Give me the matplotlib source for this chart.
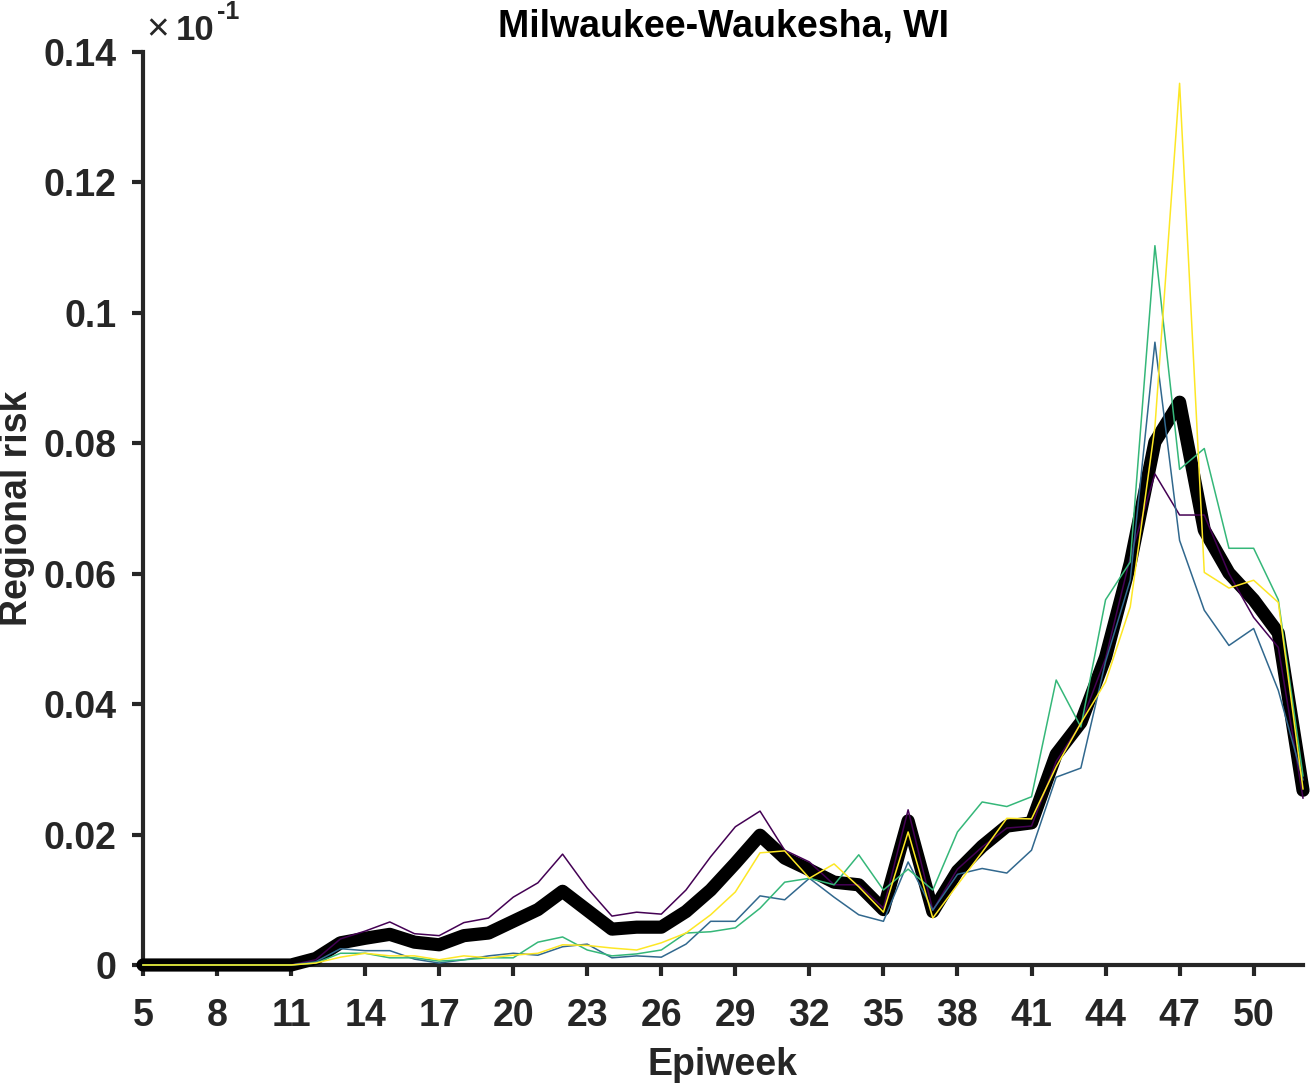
import numpy as np
import matplotlib
matplotlib.use("Agg")
import matplotlib.pyplot as plt
from matplotlib.ticker import FixedLocator, FuncFormatter

plt.rcParams['font.family'] = ['Liberation Sans', 'DejaVu Sans']
plt.rcParams['font.weight'] = 'bold'

weeks = list(range(5, 53))
zeros = [0.0] * 7  # weeks 5-11

mean_risk = zeros + [
    0.0010, 0.0034, 0.0041, 0.0047, 0.0035, 0.0031, 0.0045, 0.0049, 0.0067, 0.0085,
    0.0113, 0.0084, 0.0055, 0.0058, 0.0058, 0.0082, 0.0115, 0.0156, 0.0199, 0.0164,
    0.0146, 0.0127, 0.0123, 0.0085, 0.0221, 0.0082, 0.0144, 0.0182, 0.0213, 0.0218,
    0.0323, 0.0372, 0.0472, 0.0616, 0.0802, 0.0863, 0.0667, 0.0601, 0.0560, 0.0509,
    0.0268]

run_purple = zeros + [
    0.0008, 0.0040, 0.0052, 0.0066, 0.0048, 0.0045, 0.0065, 0.0072, 0.0104, 0.0126,
    0.0170, 0.0118, 0.0075, 0.0081, 0.0078, 0.0115, 0.0166, 0.0212, 0.0236, 0.0176,
    0.0158, 0.0123, 0.0123, 0.0087, 0.0238, 0.0084, 0.0147, 0.0181, 0.0210, 0.0213,
    0.0312, 0.0370, 0.0470, 0.0625, 0.0753, 0.0690, 0.0690, 0.0600, 0.0533, 0.0487,
    0.0256]

run_blue = zeros + [
    0.0005, 0.0025, 0.0022, 0.0022, 0.0009, 0.0003, 0.0008, 0.0014, 0.0018, 0.0015,
    0.0028, 0.0032, 0.0011, 0.0014, 0.0012, 0.0032, 0.0067, 0.0067, 0.0106, 0.0100,
    0.0133, 0.0104, 0.0077, 0.0067, 0.0158, 0.0084, 0.0139, 0.0148, 0.0141, 0.0176,
    0.0288, 0.0302, 0.0465, 0.0590, 0.0955, 0.0651, 0.0544, 0.0490, 0.0516, 0.0421,
    0.0284]

run_green = zeros + [
    0.0003, 0.0018, 0.0018, 0.0011, 0.0011, 0.0006, 0.0008, 0.0011, 0.0011, 0.0035,
    0.0043, 0.0023, 0.0014, 0.0017, 0.0023, 0.0049, 0.0051, 0.0057, 0.0087, 0.0127,
    0.0133, 0.0123, 0.0169, 0.0115, 0.0147, 0.0115, 0.0204, 0.0250, 0.0243, 0.0258,
    0.0437, 0.0365, 0.0560, 0.0618, 0.1103, 0.0760, 0.0792, 0.0639, 0.0639, 0.0560,
    0.0290]

run_yellow = zeros + [
    0.0003, 0.0012, 0.0018, 0.0014, 0.0014, 0.0008, 0.0014, 0.0011, 0.0015, 0.0018,
    0.0031, 0.0030, 0.0026, 0.0023, 0.0034, 0.0049, 0.0077, 0.0112, 0.0172, 0.0175,
    0.0133, 0.0155, 0.0120, 0.0081, 0.0204, 0.0072, 0.0123, 0.0173, 0.0225, 0.0224,
    0.0304, 0.0371, 0.0434, 0.0549, 0.0825, 0.1352, 0.0602, 0.0578, 0.0590, 0.0556,
    0.0270]

runs = [run_purple, run_blue, run_green, run_yellow]
run_colors = ["#440154", "#31688e", "#35b779", "#fde725"]

x_ticks = list(range(5, 52, 3))
y_ticks = [0, 0.02, 0.04, 0.06, 0.08, 0.1, 0.12, 0.14]

axis_col = "#262626"
fs = 27

fig = plt.figure(figsize=(13.10, 10.86), dpi=100)
ax = fig.add_axes([143 / 1310, 1 - 965 / 1086, (1303 - 143) / 1310, (965 - 52) / 1086])

ax.plot(weeks, mean_risk, color="black", lw=9.5, solid_joinstyle="round",
        solid_capstyle="round", zorder=3, clip_on=False)
for vals, col in zip(runs, run_colors):
    ax.plot(weeks, vals, color=col, lw=1.1, zorder=4, clip_on=False)

ax.set_xlim(5, 52)
ax.set_ylim(0, 0.14)
ax.xaxis.set_major_locator(FixedLocator(x_ticks))
ax.yaxis.set_major_locator(FixedLocator(y_ticks))
ax.yaxis.set_major_formatter(FuncFormatter(lambda v, p: "%g" % round(v, 4)))

for s in ["top", "right"]:
    ax.spines[s].set_visible(False)
for s in ["left", "bottom"]:
    ax.spines[s].set_linewidth(3)
    ax.spines[s].set_color(axis_col)
    ax.spines[s].set_zorder(2.5)

ax.tick_params(axis="both", direction="out", length=8, width=3, colors=axis_col,
               labelsize=fs)
ax.tick_params(axis="x", pad=16)
ax.tick_params(axis="y", pad=11)
for lab in ax.get_xticklabels() + ax.get_yticklabels():
    lab.set_fontweight("bold")

ax.set_title("Milwaukee-Waukesha, WI", fontsize=fs, fontweight="bold", pad=11)
ax.set_xlabel("Epiweek", fontsize=fs, fontweight="bold", color=axis_col, labelpad=9)
ax.set_ylabel("Regional risk", fontsize=fs, fontweight="bold", color=axis_col, labelpad=6)

# exponent label in the MATLAB style
fig.text(146 / 1310, 1 - 40 / 1086, "\u00d7", fontsize=28, fontweight="normal",
         color=axis_col, ha="left", va="baseline")
fig.text(176 / 1310, 1 - 40 / 1086, "10", fontsize=25, fontweight="bold",
         color=axis_col, ha="left", va="baseline")
fig.text(217 / 1310, 1 - 19 / 1086, "-1", fontsize=18, fontweight="bold",
         color=axis_col, ha="left", va="baseline")

fig.savefig("out.png", dpi=100)
